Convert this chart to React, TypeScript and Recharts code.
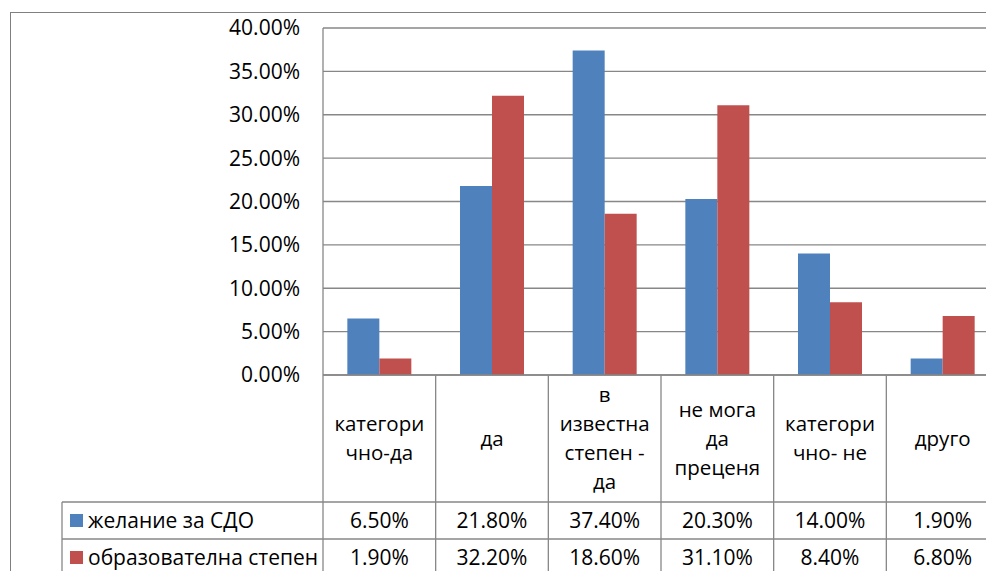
import React from 'react';
import { BarChart, Bar, XAxis, YAxis, CartesianGrid } from 'recharts';

const categories = ['категори\nчно-да', 'да', 'в\nизвестна\nстепен -\nда', 'не мога\nда\nпреценя', 'категори\nчно- не', 'друго'];
const seriesNames = ['желание за СДО', 'образователна степен'];
const desire = [0.065, 0.218, 0.374, 0.203, 0.14, 0.019];
const degree = [0.019, 0.322, 0.186, 0.311, 0.084, 0.068];
const yTicks = [0, 0.05, 0.1, 0.15, 0.2, 0.25, 0.3, 0.35, 0.4];

const COLORS = ['#4F81BD', '#C0504D'];
const GRID = '#878787';
const FONT = '"Open Sans", sans-serif';
const TEXT_SIZE = 21;
const CAT_SIZE = 20.5;

const CHART_W = 1010;
const CHART_H = 600;
const PLOT_LEFT = 323;
const PLOT_RIGHT = 999;
const PLOT_BOTTOM = 375;
const ROW1 = 502;
const ROW2 = 539;
const ROW3 = 576;
const LEGEND_LEFT = 62;

const data = categories.map((c, i) => ({ name: c, s0: desire[i], s1: degree[i] }));
const seriesValues = [desire, degree];

const fmt = (v: number) => (v * 100).toFixed(2) + '%';

const TableTick = (props: any) => {
  const { x, payload, index } = props;
  const band = (PLOT_RIGHT - PLOT_LEFT) / categories.length;
  const x0 = x - band / 2;
  const x1 = x + band / 2;
  const lines = String(payload.value).split('\n');
  const lh = 29;
  const midY = (PLOT_BOTTOM + ROW1) / 2;
  const startY = midY - ((lines.length - 1) * lh) / 2;
  const last = index === categories.length - 1;
  return (
    <g>
      <line x1={x0} y1={PLOT_BOTTOM} x2={x0} y2={CHART_H} stroke={GRID} strokeWidth={1.3} />
      {last && <line x1={x1} y1={PLOT_BOTTOM} x2={x1} y2={CHART_H} stroke={GRID} strokeWidth={1.3} />}
      {[ROW1, ROW2, ROW3].map((ry) => (
        <line key={ry} x1={x0} y1={ry} x2={x1} y2={ry} stroke={GRID} strokeWidth={1.3} />
      ))}
      {lines.map((l, i) => (
        <text key={i} x={x} y={startY + i * lh} dy="0.355em" textAnchor="middle" fontFamily={FONT} fontSize={CAT_SIZE} fill="#000">
          {l}
        </text>
      ))}
      {seriesValues.map((vals, si) => (
        <text key={si} x={x} y={si === 0 ? (ROW1 + ROW2) / 2 : (ROW2 + ROW3) / 2} dy="0.355em" textAnchor="middle" fontFamily={FONT} fontSize={TEXT_SIZE} fill="#000">
          {fmt(vals[index])}
        </text>
      ))}
      {index === 0 && (
        <g>
          {[ROW1, ROW2, ROW3].map((ry) => (
            <line key={ry} x1={LEGEND_LEFT} y1={ry} x2={x0} y2={ry} stroke={GRID} strokeWidth={1.3} />
          ))}
          <line x1={LEGEND_LEFT} y1={ROW1} x2={LEGEND_LEFT} y2={CHART_H} stroke={GRID} strokeWidth={1.3} />
          {seriesNames.map((n, si) => {
            const cy = si === 0 ? (ROW1 + ROW2) / 2 : (ROW2 + ROW3) / 2;
            return (
              <g key={si}>
                <rect x={70} y={cy - 6.5} width={13} height={13} fill={COLORS[si]} />
                <text x={88} y={cy} dy="0.355em" textAnchor="start" fontFamily={FONT} fontSize={TEXT_SIZE} fill="#000">
                  {n}
                </text>
              </g>
            );
          })}
        </g>
      )}
    </g>
  );
};

export default function App() {
  return (
    <div style={{ position: 'fixed', left: 0, top: 0, width: 986, height: 571, overflow: 'hidden', background: '#fff' }}>
      <div style={{ position: 'absolute', left: 10, top: 12, width: 1200, height: 800, border: '1px solid #808080' }} />
      <div style={{ position: 'absolute', left: 0, top: 0 }}>
        <BarChart
          width={CHART_W}
          height={CHART_H}
          data={data}
          margin={{ top: 28, right: CHART_W - PLOT_RIGHT, left: 0, bottom: 0 }}
          barCategoryGap="21.6%"
          barGap={0}
        >
          <CartesianGrid vertical={false} stroke={GRID} strokeWidth={1.3} />
          <XAxis
            dataKey="name"
            height={CHART_H - PLOT_BOTTOM}
            axisLine={{ stroke: GRID, strokeWidth: 1.3 }}
            tickLine={false}
            tickSize={0}
            tickMargin={0}
            interval={0}
            tick={<TableTick />}
          />
          <YAxis
            width={PLOT_LEFT}
            domain={[0, 0.4]}
            ticks={yTicks}
            tickFormatter={fmt}
            axisLine={{ stroke: GRID, strokeWidth: 1.3 }}
            tickLine={false}
            tickSize={0}
            tickMargin={23}
            tick={{ fontFamily: FONT, fontSize: TEXT_SIZE, fill: '#000' }}
          />
          <Bar dataKey="s0" name={seriesNames[0]} fill={COLORS[0]} isAnimationActive={false} />
          <Bar dataKey="s1" name={seriesNames[1]} fill={COLORS[1]} isAnimationActive={false} />
        </BarChart>
      </div>
    </div>
  );
}
